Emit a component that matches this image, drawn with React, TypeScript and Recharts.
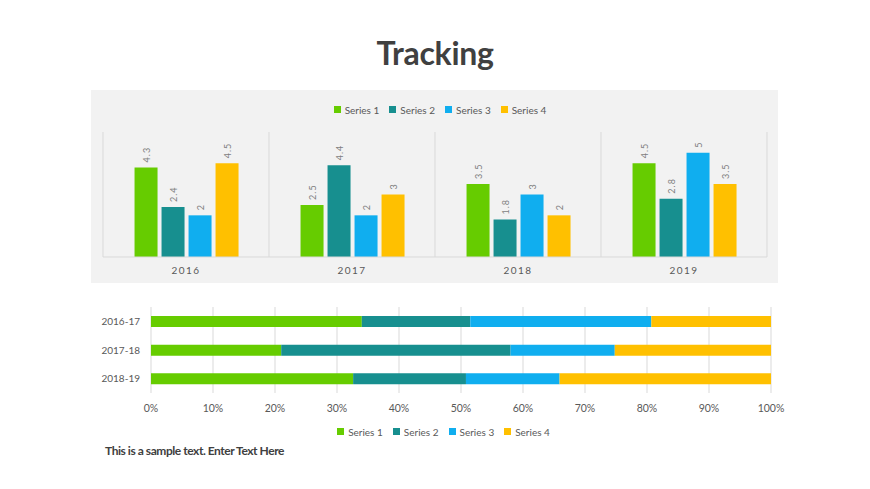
import React from 'react';
import {
  BarChart,
  Bar,
  XAxis,
  YAxis,
  CartesianGrid,
  Legend,
  LabelList,
} from 'recharts';

const YEARS = ['2016', '2017', '2018', '2019'];
const SERIES_1 = [4.3, 2.5, 3.5, 4.5];
const SERIES_2 = [2.4, 4.4, 1.8, 2.8];
const SERIES_3 = [2, 2, 3, 5];
const SERIES_4 = [4.5, 3, 2, 3.5];

const PERIODS = ['2016-17', '2017-18', '2018-19'];
const SHARE_1 = [34, 21, 32.6];
const SHARE_2 = [17.5, 37, 18.2];
const SHARE_3 = [29.2, 16.8, 15.1];
const SHARE_4 = [19.3, 25.2, 34.1];

const PCT_TICKS = [0, 0.1, 0.2, 0.3, 0.4, 0.5, 0.6, 0.7, 0.8, 0.9, 1];

const COLORS = ['#66CC00', '#178F8F', '#10AEEF', '#FFC000'];
const FONT = 'Lato, "Open Sans", sans-serif';
const GRID = '#D9D9D9';
const TEXT = '#595959';

const yearData = YEARS.map((year, i) => ({
  year,
  s1: SERIES_1[i],
  s2: SERIES_2[i],
  s3: SERIES_3[i],
  s4: SERIES_4[i],
}));

const periodData = PERIODS.map((period, i) => ({
  period,
  s1: SHARE_1[i],
  s2: SHARE_2[i],
  s3: SHARE_3[i],
  s4: SHARE_4[i],
}));

const KEYS = ['s1', 's2', 's3', 's4'];

const legendText = (value: string) => (
  <span style={{ color: TEXT, fontSize: 10, fontFamily: FONT }}>{value}</span>
);

// rotated value label sitting above each column
const RotatedLabel = (props: any) => {
  const { x, y, width, value } = props;
  const cx = Number(x) + Number(width) / 2;
  const cy = Number(y) - 5;
  return (
    <text
      x={cx}
      y={cy}
      transform={`rotate(-90 ${cx} ${cy})`}
      textAnchor="start"
      dominantBaseline="central"
      fill="#7F7F7F"
      fontSize={9}
      letterSpacing={1}
      fontFamily={FONT}
    >
      {value}
    </text>
  );
};

export default function App() {
  return (
    <div
      style={{
        position: 'absolute',
        left: 0,
        top: 0,
        width: 870,
        height: 489,
        background: '#FFFFFF',
        fontFamily: FONT,
      }}
    >
      <div
        style={{
          position: 'absolute',
          left: 0,
          width: 870,
          top: 33,
          textAlign: 'center',
          fontSize: 32,
          fontWeight: 700,
          color: '#404040',
          letterSpacing: -0.3,
        }}
      >
        Tracking
      </div>

      <div style={{ position: 'absolute', left: 91, top: 90, background: '#F2F2F2' }}>
        <BarChart
          width={687}
          height={193}
          data={yearData}
          margin={{ top: 11, right: 11, bottom: 0, left: 12 }}
          barCategoryGap="19%"
          barGap={4}
        >
          <CartesianGrid
            stroke={GRID}
            horizontal={false}
            verticalCoordinatesGenerator={({ offset }: any) =>
              YEARS.map((_, i) => offset.left + (i * offset.width) / YEARS.length).concat(
                offset.left + offset.width
              )
            }
          />
          <XAxis
            dataKey="year"
            height={26}
            tickLine={false}
            axisLine={{ stroke: GRID }}
            tick={{ fill: TEXT, fontSize: 10, letterSpacing: 1.5, fontFamily: FONT }}
            tickMargin={4}
          />
          <YAxis hide domain={[0, 6]} />
          <Legend
            verticalAlign="top"
            align="center"
            iconType="square"
            iconSize={7}
            formatter={legendText}
            wrapperStyle={{ lineHeight: '14px', paddingBottom: 15, paddingLeft: 10 }}
          />
          {KEYS.map((k, i) => (
            <Bar key={k} dataKey={k} name={`Series ${i + 1}`} fill={COLORS[i]} isAnimationActive={false}>
              <LabelList dataKey={k} content={RotatedLabel} />
            </Bar>
          ))}
        </BarChart>
      </div>

      <div style={{ position: 'absolute', left: 90, top: 300 }}>
        <BarChart
          width={700}
          height={150}
          layout="vertical"
          data={periodData}
          stackOffset="expand"
          margin={{ top: 7, right: 19, bottom: 11, left: 0 }}
          barSize={11}
        >
          <CartesianGrid stroke={GRID} horizontal={false} />
          <XAxis
            type="number"
            domain={[0, 1]}
            ticks={PCT_TICKS}
            tickFormatter={(v: number) => `${Math.round(v * 100)}%`}
            axisLine={false}
            tickLine={false}
            height={24}
            tickMargin={6}
            tick={{ fill: TEXT, fontSize: 10.5, fontFamily: FONT }}
          />
          <YAxis
            type="category"
            dataKey="period"
            width={61}
            axisLine={false}
            tickLine={false}
            tickMargin={5}
            tick={{ fill: TEXT, fontSize: 10, fontFamily: FONT }}
          />
          <Legend
            verticalAlign="bottom"
            align="center"
            iconType="square"
            iconSize={7}
            formatter={legendText}
            wrapperStyle={{ lineHeight: '14px', paddingTop: 6, paddingLeft: 18 }}
          />
          {KEYS.map((k, i) => (
            <Bar
              key={k}
              dataKey={k}
              name={`Series ${i + 1}`}
              stackId="p"
              fill={COLORS[i]}
              isAnimationActive={false}
            />
          ))}
        </BarChart>
      </div>

      <div
        style={{
          position: 'absolute',
          left: 105,
          top: 443,
          fontSize: 12,
          fontWeight: 700,
          color: '#404040',
          letterSpacing: -0.45,
        }}
      >
        This is a sample text. Enter Text Here
      </div>
    </div>
  );
}
